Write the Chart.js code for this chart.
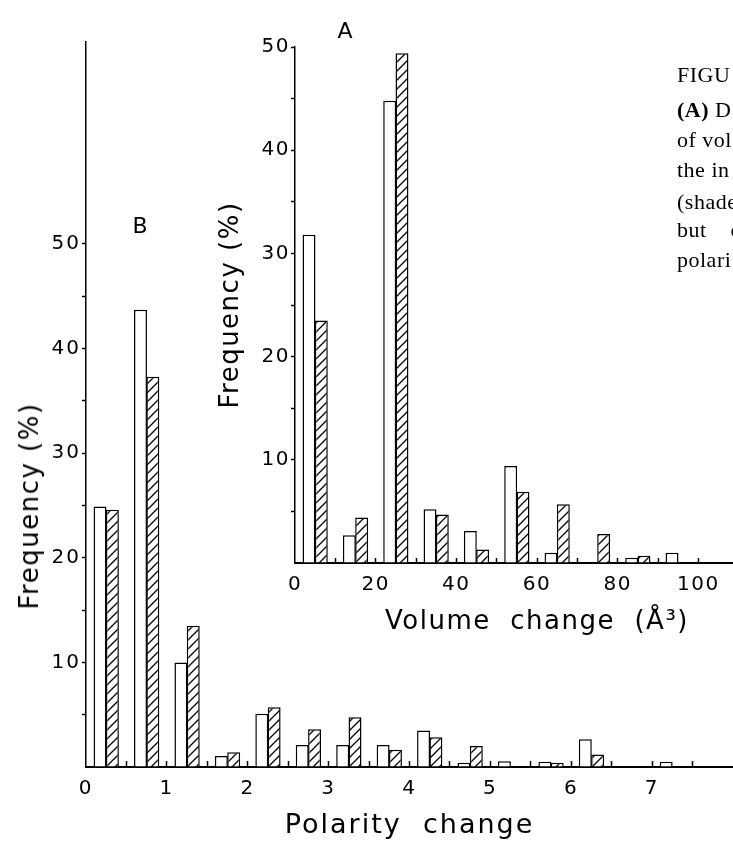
<!DOCTYPE html>
<html>
<head>
<meta charset="utf-8">
<title>Polarity / volume change</title>
<script src="https://cdn.jsdelivr.net/npm/chart.js@4.4.0/dist/chart.umd.min.js"></script>
<style>
  html, body { margin: 0; padding: 0; background: #fff; }
  body { width: 733px; height: 846px; overflow: hidden; position: relative; font-family: 'DejaVu Sans', sans-serif; color: #000; }
  canvas { position: absolute; left: 0; top: 0; }
  .tag { position: absolute; font-size: 22px; transform: translate(-50%, -50%); }
  .ytitle { position: absolute; font-size: 26px; letter-spacing: 1.5px; white-space: nowrap; transform: translate(-50%, -50%) rotate(-90deg); }
  .cap { position: absolute; left: 677px; font-family: 'Liberation Serif', serif; font-size: 22px; line-height: 24px; white-space: pre; letter-spacing: 0.5px; }
</style>
</head>
<body>
<!-- canvases run a little past the right edge; the axis ticks padding eats that part -->
<canvas id="polarity_chart" width="749" height="846"></canvas>
<canvas id="volume_chart" width="820" height="660"></canvas>

<div class="tag" style="left:345px; top:30px">A</div>
<div class="tag" style="left:140px; top:225px">B</div>
<div class="ytitle" style="left:29px; top:506px">Frequency (%)</div>

<div class="cap" style="top:63px">FIGU</div>
<div class="cap" style="top:98px"><b>(A)</b> D</div>
<div class="cap" style="top:128px">of vol</div>
<div class="cap" style="top:158px">the in</div>
<div class="cap" style="top:190px">(shade</div>
<div class="cap" style="top:218px">but    c</div>
<div class="cap" style="top:248px">polari</div>

<script>
// B: polarity change, bins of 0.5
const polarityBins = [0.25, 0.75, 1.25, 1.75, 2.25, 2.75, 3.25, 3.75, 4.25, 4.75, 5.25, 5.75, 6.25, 6.75, 7.25];
const polarityOpen = [24.9, 43.7, 10.0, 1.05, 5.1, 2.1, 2.1, 2.1, 3.5, 0.4, 0.55, 0.5, 2.65, 0, 0.5];
const polarityShaded = [24.6, 37.3, 13.5, 1.4, 5.7, 3.6, 4.75, 1.65, 2.85, 2.0, 0, 0.4, 1.2, 0, 0];
const polarityTicks = [0, 1, 2, 3, 4, 5, 6, 7];

// A: volume change, bins of 10
const volumeBins = [5, 15, 25, 35, 45, 55, 65, 75, 85, 95];
const volumeOpen = [31.8, 2.7, 44.8, 5.2, 3.1, 9.4, 1.0, 0, 0.5, 1.0];
const volumeShaded = [23.5, 4.4, 49.4, 4.7, 1.3, 6.9, 5.7, 2.8, 0.7, 0];
const volumeTicks = [0, 20, 40, 60, 80, 100];

const freqTicks = [10, 20, 30, 40, 50];

Chart.defaults.font.family = "'DejaVu Sans', sans-serif";
Chart.defaults.font.size = 20;
Chart.defaults.color = '#000';

function pairs(bins, vals) {
    return bins.map(function (b, i) { return { x: b, y: vals[i] }; });
}

// diagonal hatching like the shaded bars
function hatch(ctx) {
    let tile = document.createElement('canvas');
    tile.width = 9;
    tile.height = 9;
    let g = tile.getContext('2d');
    g.fillStyle = '#fff';
    g.fillRect(0, 0, 9, 9);
    g.strokeStyle = '#000';
    g.lineWidth = 1.3;
    g.beginPath();
    g.moveTo(-1, 10); g.lineTo(10, -1);
    g.moveTo(-1, 1); g.lineTo(1, -1);
    g.moveTo(8, 10); g.lineTo(10, 8);
    g.stroke();
    return ctx.createPattern(tile, 'repeat');
}

function spacing(px) {
    return {
        id: 'spacing',
        beforeUpdate: function (chart) { chart.ctx.letterSpacing = px; },
        beforeDraw: function (chart) { chart.ctx.letterSpacing = px; }
    };
}

function tickMark(lo, hi) {
    return function (c) {
        return (c.tick && c.tick.value >= lo && c.tick.value <= hi) ? '#000' : 'rgba(0,0,0,0)';
    };
}

let pcanvas = document.getElementById('polarity_chart');
let vcanvas = document.getElementById('volume_chart');

var polarity_chart = new Chart(pcanvas, {
    type: 'bar',
    data: {
        datasets: [{
            label: 'open',
            data: pairs(polarityBins, polarityOpen),
            backgroundColor: '#fff',
            borderColor: '#000',
            borderWidth: 1.5
        }, {
            label: 'shaded',
            data: pairs(polarityBins, polarityShaded),
            backgroundColor: hatch(pcanvas.getContext('2d')),
            borderColor: '#000',
            borderWidth: 1.5
        }]
    },
    options: {
        responsive: false,
        animation: false,
        events: [],
        layout: { padding: { left: 0, top: 42, right: 0, bottom: 0 } },
        datasets: { bar: { categoryPercentage: 0.61, barPercentage: 1.05, borderSkipped: 'bottom' } },
        plugins: { legend: { display: false }, tooltip: { enabled: false } },
        scales: {
            x: {
                type: 'linear', min: 0, max: 8, offset: false,
                border: { color: '#000', width: 2 },
                grid: { offset: false, drawOnChartArea: false, tickLength: -6, tickWidth: 1.5, tickColor: tickMark(0.5, 7.5) },
                ticks: {
                    stepSize: 0.5, autoSkip: false, maxRotation: 0, padding: 16,
                    callback: function (v) { return polarityTicks.includes(v) ? v : ''; }
                },
                title: { display: true, text: 'Polarity  change', font: { size: 27 }, padding: { top: 0, bottom: 4 } },
                afterFit: function (s) { s.height = 79; }
            },
            y: {
                min: 0, max: 69.3,
                border: { color: '#000', width: 1.5 },
                grid: { drawOnChartArea: false, tickLength: 4, tickWidth: 1.5, tickColor: tickMark(5, 50) },
                ticks: {
                    stepSize: 5, autoSkip: false, padding: 1,
                    callback: function (v) { return freqTicks.includes(v) ? v : ''; }
                },
                afterFit: function (s) { s.width = 86; }
            }
        }
    },
    plugins: [spacing('2px')]
});

var volume_chart = new Chart(vcanvas, {
    type: 'bar',
    data: {
        datasets: [{
            label: 'open',
            data: pairs(volumeBins, volumeOpen),
            backgroundColor: '#fff',
            borderColor: '#000',
            borderWidth: 1.5
        }, {
            label: 'shaded',
            data: pairs(volumeBins, volumeShaded),
            backgroundColor: hatch(vcanvas.getContext('2d')),
            borderColor: '#000',
            borderWidth: 1.5
        }]
    },
    options: {
        responsive: false,
        animation: false,
        events: [],
        layout: { padding: { left: 216, top: 47, right: 41, bottom: 0 } },
        datasets: { bar: { categoryPercentage: 0.61, barPercentage: 1.05, borderSkipped: 'bottom' } },
        plugins: { legend: { display: false }, tooltip: { enabled: false } },
        scales: {
            x: {
                type: 'linear', min: 0, max: 120, offset: false,
                border: { color: '#000', width: 2 },
                grid: { offset: false, drawOnChartArea: false, tickLength: -5, tickWidth: 1.5, tickColor: tickMark(10, 110) },
                ticks: {
                    stepSize: 10, autoSkip: false, maxRotation: 0, padding: 15,
                    callback: function (v) { return volumeTicks.includes(v) ? v : ''; }
                },
                title: { display: true, text: 'Volume  change  (Å³)', font: { size: 26 }, padding: { top: 0, bottom: 22 } },
                afterFit: function (s) { s.height = 97; }
            },
            y: {
                min: 0, max: 50,
                border: { color: '#000', width: 1.5 },
                grid: { drawOnChartArea: false, tickLength: 4, tickWidth: 1.5, tickColor: tickMark(5, 50) },
                ticks: {
                    stepSize: 5, autoSkip: false, padding: 1,
                    callback: function (v) { return freqTicks.includes(v) ? v : ''; }
                },
                title: { display: true, text: 'Frequency (%)', font: { size: 26 }, padding: 0 },
                afterFit: function (s) { s.width = 79; }
            }
        }
    },
    plugins: [spacing('1.5px')]
});
</script>
</body>
</html>
